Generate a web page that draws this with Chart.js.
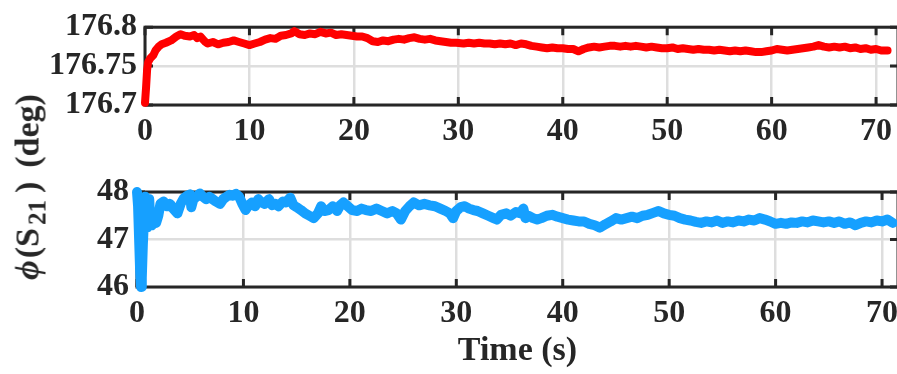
<!DOCTYPE html>
<html>
<head>
<meta charset="utf-8">
<script src="https://cdn.jsdelivr.net/npm/chart.js@4.4.1/dist/chart.umd.min.js"></script>
<style>
  html, body { margin:0; padding:0; width:897px; height:374px; overflow:hidden; background:#fff; }
  canvas { position:absolute; left:0; }
  #ylab { position:absolute; left:30px; top:187px; transform:translate(-50%,-50%) rotate(-90deg);
          white-space:nowrap; font:bold 34px "Liberation Serif", "Times New Roman", serif; color:#262626; }
  #ylab i { margin-right:2px; }
  #ylab sub { font-size:25px; vertical-align:-7px; margin-left:3px; margin-right:7px; }
  #ylab .gap { display:inline-block; width:14px; }
</style>
</head>
<body>
<canvas id="top" width="920" height="160" style="top:0px"></canvas>
<canvas id="bot" width="920" height="214" style="top:160px"></canvas>
<div id="ylab"><i>ϕ</i>(S<sub>21</sub>)<span class="gap"></span>(deg)</div>
<script>
// ---- data ----
const timeTicks = [0, 10, 20, 30, 40, 50, 60, 70];
const timeTickLabels = ['0', '10', '20', '30', '40', '50', '60', '70'];
const topTickValues = [176.7, 176.75, 176.8];
const topTickLabels = ['176.7', '176.75', '176.8'];
const botTickValues = [46, 47, 48];
const botTickLabels = ['46', '47', '48'];

const topTime = [0,0.1,0.2,0.3,0.5,0.8,1.0,1.3,1.6,2.0,2.5,3.0,3.4,3.8,4.3,4.7,5.0,5.3,5.7,6.0,6.5,7.0,7.5,8.0,8.5,9.0,9.5,10.0,10.5,11.0,11.5,12.0,12.5,13.0,13.5,14.0,14.3,14.8,15.3,15.8,16.3,16.8,17.3,17.8,18.3,18.8,19.3,19.8,20.3,20.8,21.3,21.8,22.3,22.8,23.3,23.8,24.3,24.8,25.3,25.8,26.3,26.8,27.3,27.8,28.3,28.8,29.3,29.8,30.5,31.0,31.5,32.0,32.5,33.0,33.5,34.0,34.5,35.0,35.5,36.0,36.5,37.0,37.5,38.0,38.5,39.0,39.5,40.0,40.5,41.0,41.5,42.0,42.5,43.0,43.5,44.0,44.5,45.0,45.5,46.0,46.5,47.0,47.5,48.0,48.5,49.0,49.5,50.0,50.5,51.0,51.5,52.0,52.5,53.0,53.5,54.0,54.5,55.0,55.5,56.0,56.5,57.0,57.5,58.0,58.5,59.0,59.5,60.0,60.5,61.0,61.5,62.0,62.5,63.0,63.5,64.0,64.5,65.0,65.5,66.0,66.5,67.0,67.5,68.0,68.5,69.0,69.5,70.0,70.5,71.1];
const topPhase = [176.703,176.722,176.745,176.755,176.760,176.764,176.770,176.775,176.778,176.780,176.783,176.788,176.791,176.789,176.788,176.790,176.786,176.788,176.782,176.779,176.781,176.778,176.780,176.781,176.783,176.781,176.779,176.777,176.779,176.781,176.784,176.786,176.785,176.789,176.790,176.792,176.795,176.791,176.790,176.792,176.791,176.794,176.792,176.793,176.790,176.791,176.790,176.789,176.788,176.788,176.786,176.782,176.781,176.783,176.782,176.784,176.785,176.784,176.786,176.787,176.785,176.784,176.785,176.783,176.782,176.781,176.780,176.780,176.779,176.780,176.779,176.780,176.779,176.779,176.778,176.779,176.778,176.779,176.777,176.779,176.778,176.776,176.775,176.774,176.773,176.774,176.773,176.773,176.772,176.772,176.769,176.772,176.774,176.775,176.774,176.775,176.776,176.776,176.775,176.776,176.775,176.776,176.775,176.774,176.775,176.774,176.773,176.773,176.774,176.772,176.773,176.772,176.771,176.772,176.771,176.771,176.770,176.771,176.770,176.769,176.770,176.769,176.770,176.769,176.768,176.768,176.769,176.770,176.772,176.771,176.770,176.771,176.772,176.773,176.774,176.775,176.777,176.775,176.774,176.775,176.774,176.775,176.773,176.774,176.772,176.773,176.771,176.772,176.770,176.770];

const botTime = [0,0.1,0.2,0.3,0.38,0.45,0.55,0.65,0.75,0.85,0.95,1.05,1.15,1.25,1.4,1.6,1.8,2.0,2.2,2.5,2.8,3.1,3.4,3.8,4.1,4.4,4.7,5.0,5.1,5.3,5.6,5.9,6.2,6.5,6.8,7.1,7.4,7.8,8.1,8.4,8.7,9.0,9.3,9.6,9.9,10.2,10.5,10.8,11.1,11.4,11.7,12.0,12.4,12.7,13.0,13.3,13.7,14.0,14.4,14.7,15.0,15.4,15.8,16.2,16.6,17.0,17.3,17.6,18.0,18.4,18.8,19.1,19.4,19.8,20.2,20.7,21.1,21.5,22.0,22.5,23.0,23.5,24.0,24.4,24.8,25.2,25.6,26.0,26.5,27.0,27.5,28.0,28.5,29.0,29.4,29.7,30.0,30.4,30.8,31.2,31.6,32.0,32.5,33.0,33.5,33.8,34.2,34.7,35.1,35.6,36.0,36.3,36.5,36.8,37.2,37.6,38.0,38.5,39.0,39.5,40.0,40.5,41.0,41.5,42.0,42.5,43.0,43.5,44.0,44.5,45.0,45.5,46.0,46.5,47.0,47.5,48.0,48.5,49.0,49.5,50.0,50.5,51.0,51.5,52.0,52.5,53.0,53.5,54.0,54.5,55.0,55.5,56.0,56.5,57.0,57.5,58.0,58.5,59.0,59.5,60.0,60.5,61.0,61.5,62.0,62.5,63.0,63.5,64.0,64.5,65.0,65.5,66.0,66.5,67.0,67.5,68.0,68.5,69.0,69.5,70.0,70.5,71.0];
const botPhase = [48.0,47.7,47.0,46.3,46.0,46.2,46.9,47.4,47.9,47.6,47.25,47.75,47.85,47.35,47.3,47.4,47.35,47.5,47.75,47.8,47.7,47.75,47.65,47.55,47.75,47.87,47.92,47.95,47.68,47.85,47.9,47.97,47.9,47.85,47.9,47.85,47.8,47.75,47.85,47.9,47.94,47.92,47.96,47.9,47.75,47.62,47.72,47.78,47.7,47.85,47.78,47.75,47.85,47.72,47.75,47.7,47.8,47.78,47.88,47.72,47.68,47.62,47.55,47.5,47.45,47.55,47.7,47.6,47.62,47.7,47.6,47.72,47.78,47.7,47.62,47.6,47.65,47.62,47.6,47.65,47.6,47.55,47.6,47.55,47.42,47.6,47.7,47.78,47.72,47.75,47.72,47.7,47.65,47.6,47.55,47.45,47.6,47.68,47.7,47.65,47.62,47.6,47.55,47.5,47.45,47.42,47.52,47.55,47.5,47.58,47.55,47.65,47.45,47.5,47.45,47.42,47.45,47.5,47.52,47.48,47.45,47.42,47.4,47.38,47.38,47.33,47.3,47.25,47.32,47.38,47.45,47.42,47.45,47.48,47.45,47.5,47.52,47.56,47.6,47.55,47.52,47.5,47.45,47.42,47.4,47.37,47.35,47.38,47.36,47.4,47.35,47.38,47.36,47.4,47.38,47.42,47.4,47.45,47.42,47.38,47.33,47.35,47.33,47.36,47.35,47.38,47.36,47.4,47.38,47.36,47.38,47.35,47.38,47.33,47.36,47.3,47.35,47.38,47.36,47.4,47.38,47.42,47.35];

// ---- rendering ----
const FONT = '"Liberation Serif", "Times New Roman", serif';
const AXC = '#262626';
const GRIDC = '#dedede';
const TICK_SIZE = 32;

const boxPlugin = {
  id: 'box',
  beforeDatasetsDraw(chart) {
    const {ctx, chartArea: a, scales: {x, y}} = chart;
    const L = 8;
    ctx.save();
    ctx.strokeStyle = AXC;
    ctx.lineWidth = 3;
    ctx.lineCap = 'butt';
    ctx.strokeRect(a.left, a.top, a.right - a.left, a.bottom - a.top);
    ctx.beginPath();
    x.ticks.forEach(t => {
      const p = x.getPixelForValue(t.value);
      ctx.moveTo(p, a.bottom); ctx.lineTo(p, a.bottom - L);
      ctx.moveTo(p, a.top); ctx.lineTo(p, a.top + L);
    });
    y.ticks.forEach(t => {
      const p = y.getPixelForValue(t.value);
      ctx.moveTo(a.left, p); ctx.lineTo(a.left + L, p);
      ctx.moveTo(a.right, p); ctx.lineTo(a.right - L, p);
    });
    ctx.stroke();
    ctx.restore();
  }
};

function makeChart(id, times, vals, color, width, xmax, yTicks, yLabels, opts) {
  const data = times.map((t, i) => ({x: t, y: vals[i]}));
  return new Chart(document.getElementById(id), {
    type: 'line',
    data: { datasets: [{
      data, borderColor: color, borderWidth: width, pointRadius: 0,
      tension: 0, borderCapStyle: 'round', borderJoinStyle: 'round', clip: 8
    }]},
    plugins: [boxPlugin],
    options: {
      responsive: false, animation: false, events: [],
      layout: { padding: opts.padding },
      plugins: { legend: { display: false }, tooltip: { enabled: false } },
      scales: {
        x: {
          type: 'linear', min: 0, max: xmax,
          afterBuildTicks: s => { s.ticks = timeTicks.map(v => ({value: v})); },
          afterFit: s => { s.height = opts.xHeight; },
          grid: { color: GRIDC, lineWidth: 2.5, drawTicks: false },
          border: { display: false },
          ticks: {
            padding: opts.xPad, color: AXC, maxRotation: 0, autoSkip: false,
            font: { family: FONT, size: TICK_SIZE, weight: 'bold' },
            callback: (v) => timeTickLabels[timeTicks.indexOf(v)]
          },
          title: opts.title
        },
        y: {
          type: 'linear', min: yTicks[0], max: yTicks[yTicks.length - 1],
          afterBuildTicks: s => { s.ticks = yTicks.map(v => ({value: v})); },
          afterFit: s => { s.width = opts.yWidth; },
          grid: { color: GRIDC, lineWidth: 2.5, drawTicks: false },
          border: { display: false },
          ticks: {
            padding: 8, color: AXC, autoSkip: false,
            font: { family: FONT, size: TICK_SIZE, weight: 'bold' },
            callback: (v) => yLabels[yTicks.indexOf(v)]
          }
        }
      }
    }
  });
}

makeChart('top', topTime, topPhase, '#ff0000', 8, 72.1, topTickValues, topTickLabels, {
  padding: { top: 14, right: 22, left: 0, bottom: 0 },
  xHeight: 55, xPad: 8, yWidth: 145, title: { display: false }
});
makeChart('bot', botTime, botPhase, '#16a0ff', 10, 71.5, botTickValues, botTickLabels, {
  padding: { top: 32, right: 22, left: 0, bottom: 0 },
  xHeight: 87, xPad: 8, yWidth: 137,
  title: { display: true, text: 'Time (s)', color: AXC, padding: { top: 0, bottom: 2 },
           font: { family: FONT, size: 34, weight: 'bold' } }
});
</script>
</body>
</html>
